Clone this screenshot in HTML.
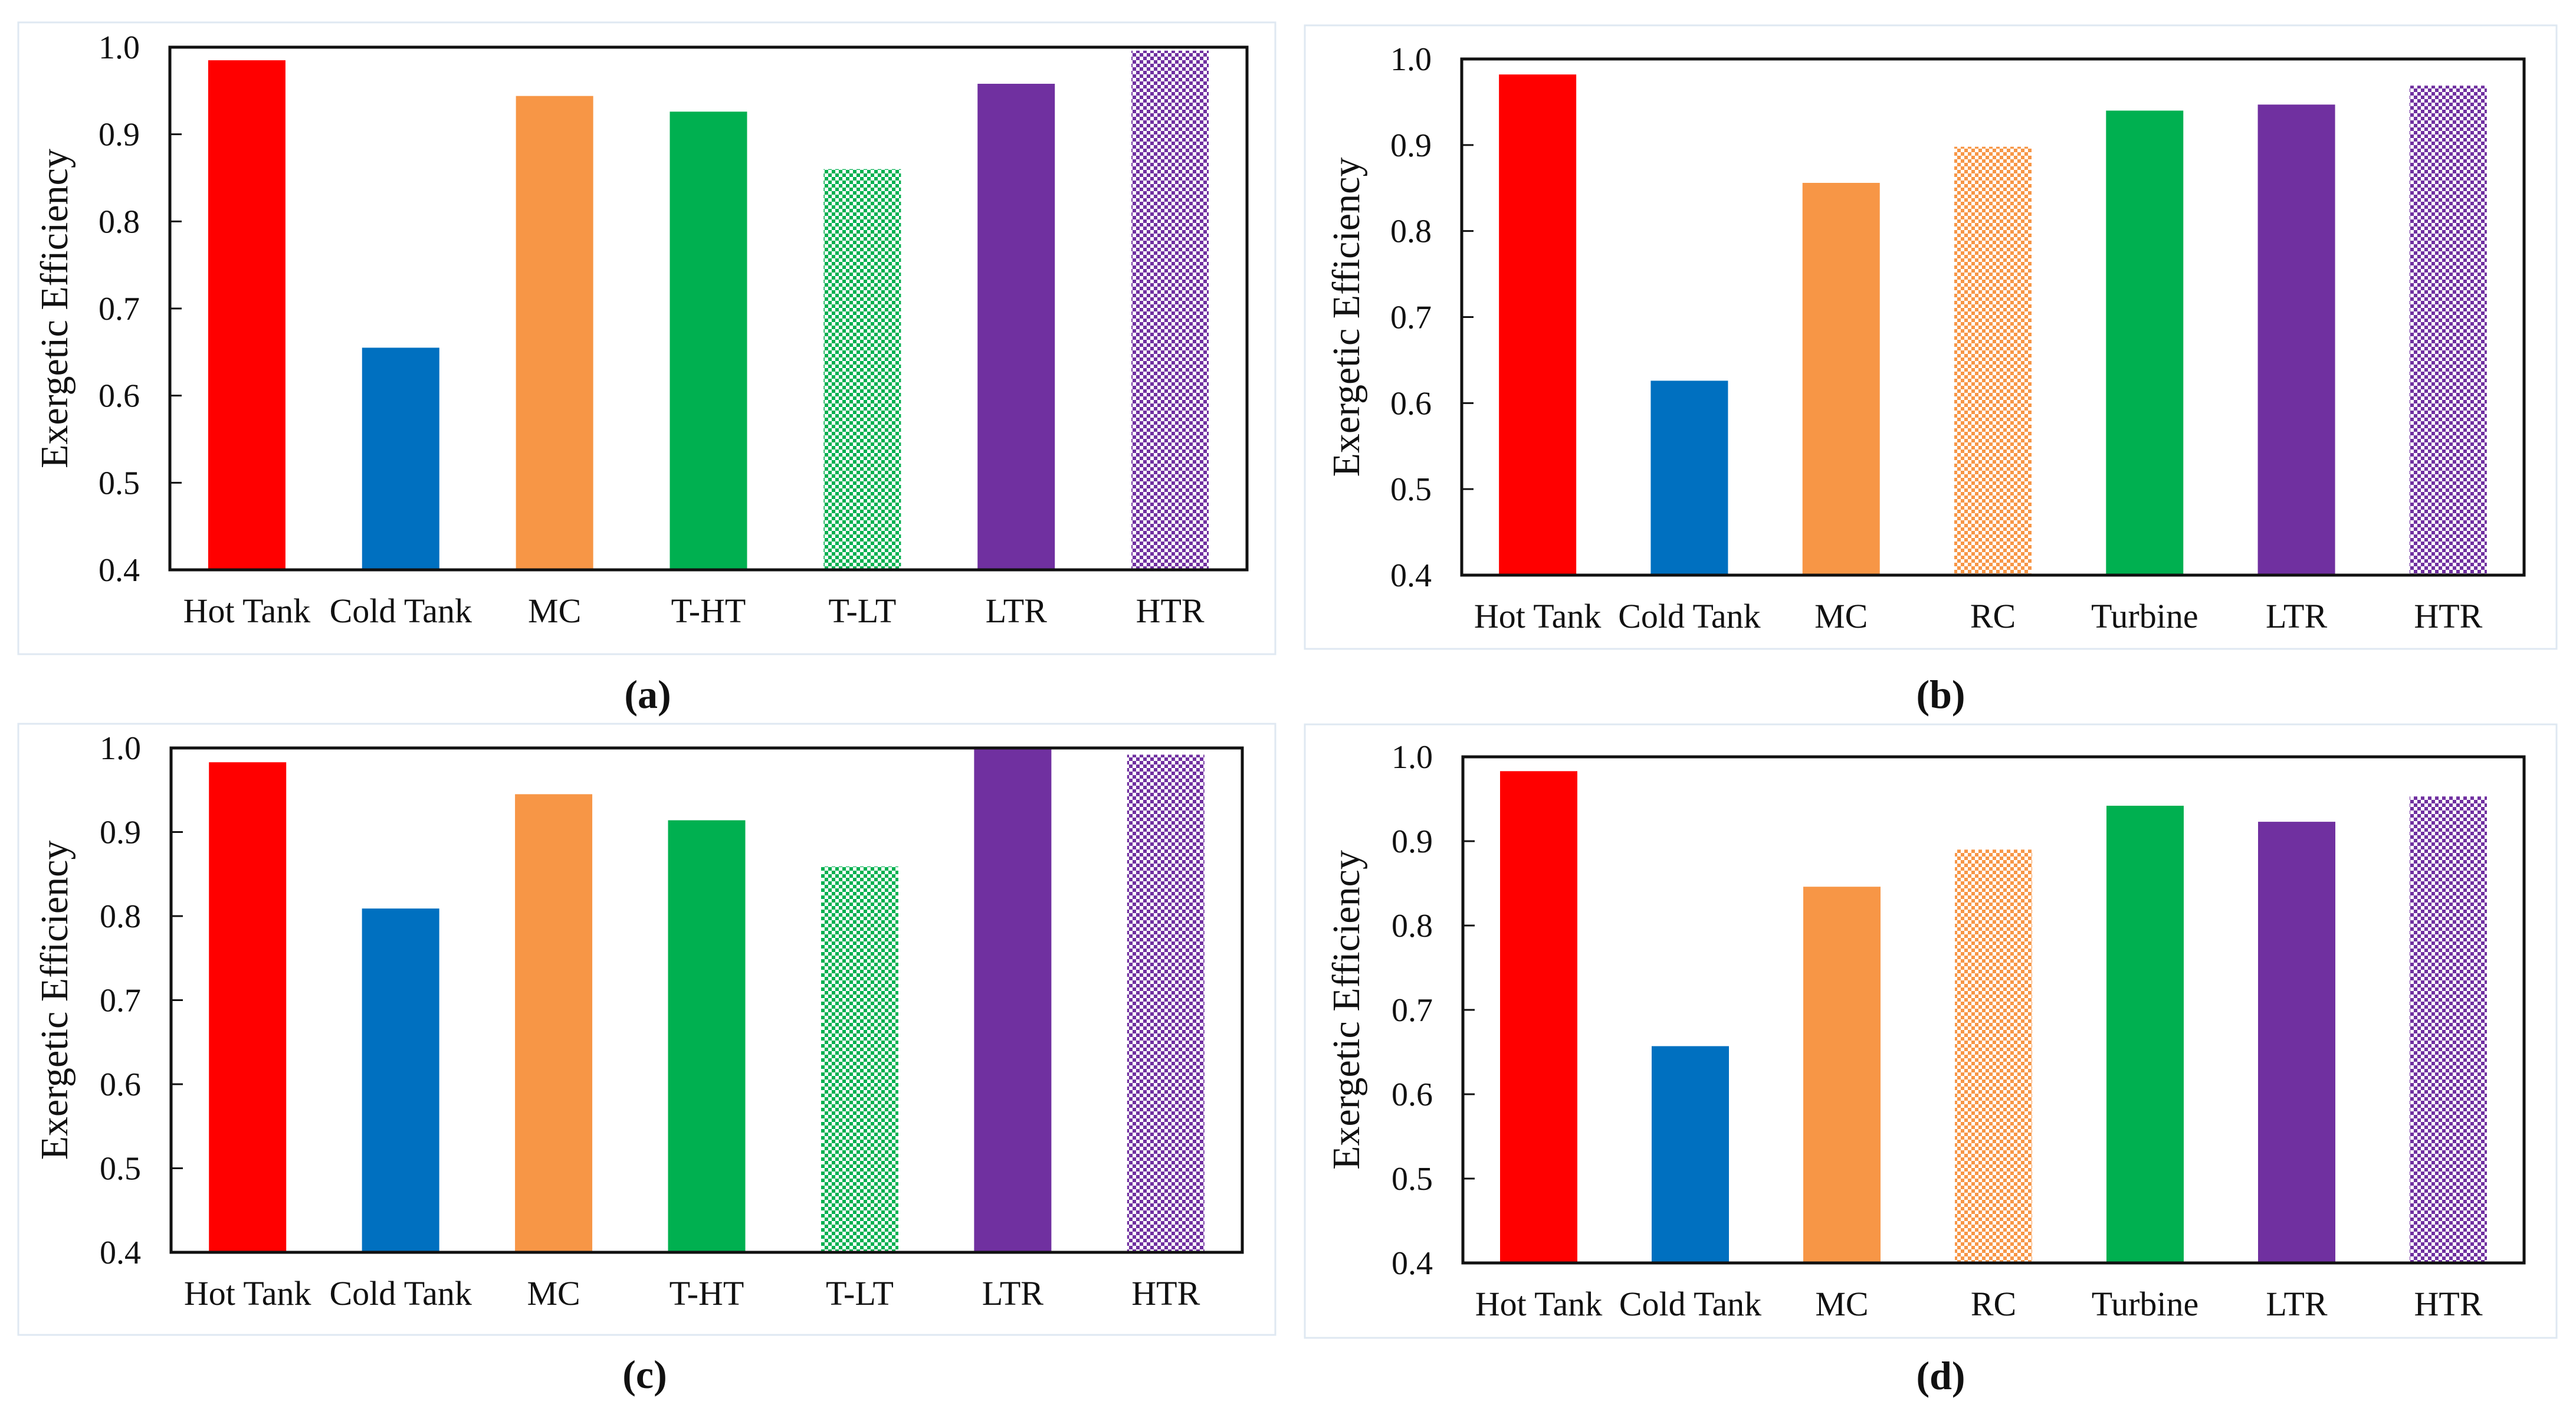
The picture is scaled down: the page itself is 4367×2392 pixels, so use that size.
<!DOCTYPE html>
<html><head><meta charset="utf-8"><style>
html,body{margin:0;padding:0;background:#fff;}
svg{display:block;}
text{font-family:"Liberation Serif",serif;fill:#111;}
</style></head><body>
<svg id="fig" width="4367" height="2392" viewBox="0 0 4367 2392" xmlns="http://www.w3.org/2000/svg">
<defs>
<pattern id="chk-green" width="12" height="12" patternUnits="userSpaceOnUse"><rect width="12" height="12" fill="#00B050"/><rect x="0" y="0" width="6" height="6" fill="#fff"/><rect x="6" y="6" width="6" height="6" fill="#fff"/></pattern>
<pattern id="chk-orange" width="12" height="12" patternUnits="userSpaceOnUse"><rect width="12" height="12" fill="#F79646"/><rect x="0" y="0" width="6" height="6" fill="#fff"/><rect x="6" y="6" width="6" height="6" fill="#fff"/></pattern>
<pattern id="chk-purple" width="12" height="12" patternUnits="userSpaceOnUse"><rect width="12" height="12" fill="#7030A0"/><rect x="0" y="0" width="6" height="6" fill="#fff"/><rect x="6" y="6" width="6" height="6" fill="#fff"/></pattern>
</defs>
</svg>
<script>
// ---- data ----
const catsA = ["Hot Tank","Cold Tank","MC","T-HT","T-LT","LTR","HTR"];
const valsA = [0.985,0.655,0.944,0.926,0.860,0.958,0.996];
const catsB = ["Hot Tank","Cold Tank","MC","RC","Turbine","LTR","HTR"];
const valsB = [0.982,0.626,0.856,0.898,0.940,0.947,0.969];
const catsC = ["Hot Tank","Cold Tank","MC","T-HT","T-LT","LTR","HTR"];
const valsC = [0.983,0.809,0.945,0.914,0.859,1.000,0.992];
const catsD = ["Hot Tank","Cold Tank","MC","RC","Turbine","LTR","HTR"];
const valsD = [0.983,0.657,0.846,0.890,0.942,0.923,0.953];
const yTicks = [0.4,0.5,0.6,0.7,0.8,0.9,1.0];
const yTickLabels = ["0.4","0.5","0.6","0.7","0.8","0.9","1.0"];
const fillsAC = ["#FF0000","#0070C0","#F79646","#00B050","url(#chk-green)","#7030A0","url(#chk-purple)"];
const fillsBD = ["#FF0000","#0070C0","#F79646","url(#chk-orange)","#00B050","#7030A0","url(#chk-purple)"];

const NS="http://www.w3.org/2000/svg";
const svg=document.getElementById('fig');
function mk(tag,attrs,parent){const e=document.createElementNS(NS,tag);for(const k in attrs)e.setAttribute(k,attrs[k]);(parent||svg).appendChild(e);return e;}

function panel(id,cats,vals,fills,L,R,T,B,frame,titleX,label,labelX,labelY){
  const g=mk('g',{});
  
  
  const fr=mk('rect',{x:frame[0],y:frame[1],width:frame[2]-frame[0],height:frame[3]-frame[1],fill:'#fff',stroke:'#dfe8f2','stroke-width':3},g);
  
  
  const y=v=>B-(v-0.4)/(0.6)*(B-T);
  const step=(R-L)/cats.length;
  const bw=131;
  cats.forEach((c,i)=>{
    const cx=L+step*(i+0.5);
    const r=mk('rect',{x:cx-bw/2,y:y(vals[i]),width:bw,height:B-y(vals[i]),fill:fills[i]},g);
    
    
    const t=mk('text',{x:cx,y:B+89,'font-size':58,'text-anchor':'middle'},g);
    t.textContent=c;
    
    
  });
  yTicks.forEach((v,i)=>{
    const yy=y(v);
    if(i>0&&i<yTicks.length-1){const tk=mk('line',{x1:L,x2:L+20,y1:yy,y2:yy,stroke:'#111','stroke-width':3},g);
      
      }
    const t=mk('text',{x:L-51,y:yy+19,'font-size':56,'text-anchor':'end'},g);
    t.textContent=yTickLabels[i];
    
    
  });
  const ax=mk('rect',{x:L,y:T,width:R-L,height:B-T,fill:'none',stroke:'#111','stroke-width':5},g);
  
  
  const cy=(T+B)/2;
  const yt=mk('text',{x:titleX,y:cy,'font-size':66,'text-anchor':'middle',transform:`rotate(-90 ${titleX} ${cy})`},g);
  yt.textContent='Exergetic Efficiency';
  
  
  const lb=mk('text',{x:labelX,y:labelY,'font-size':68,'text-anchor':'middle','font-weight':'bold'},g);
  lb.textContent=label;
  
  
}
panel('a',catsA,valsA,fillsAC,288,2114,80,966,[31,38,2162,1109],114,'(a)',1098,1200);
panel('b',catsB,valsB,fillsBD,2478,4279,100,975,[2212,43,4334,1100],2304,'(b)',3290,1200);
panel('c',catsC,valsC,fillsAC,290,2106,1268,2123,[31,1227,2162,2263],114,'(c)',1093,2353);
panel('d',catsD,valsD,fillsBD,2480,4279,1283,2141,[2212,1228,4334,2268],2304,'(d)',3290,2355);
</script>
</body></html>
